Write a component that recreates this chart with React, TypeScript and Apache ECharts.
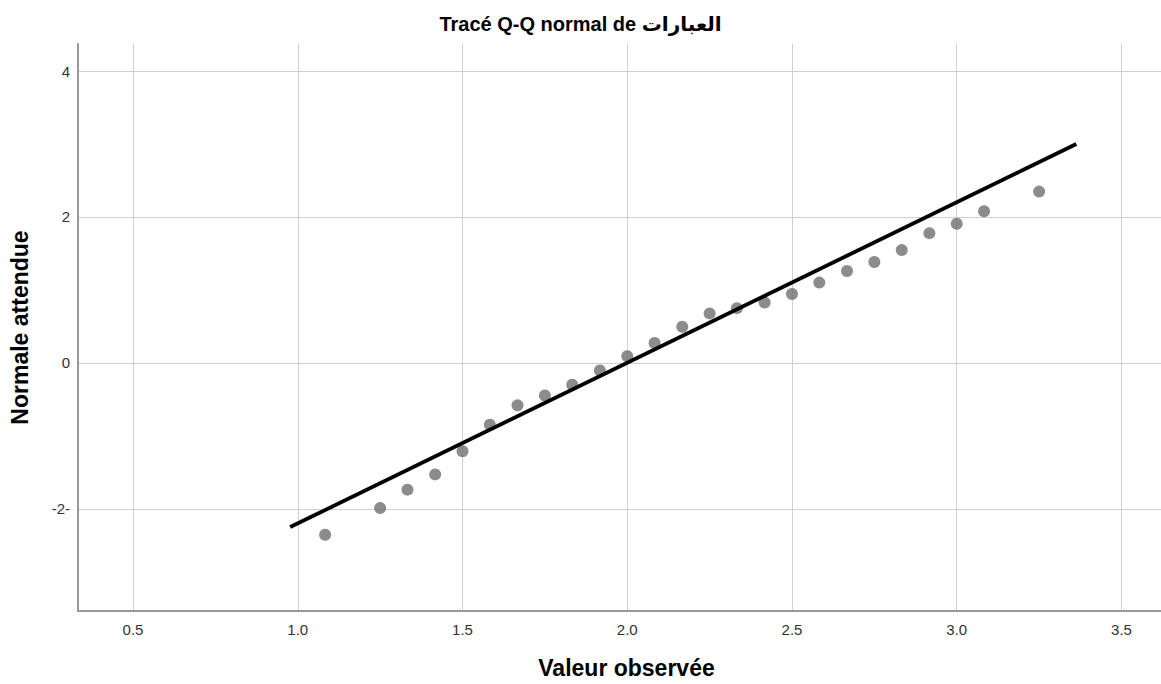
import React, { useEffect, useRef } from "react";
import * as echarts from "echarts";

// Observed values (x) and expected normal values (y)
const observed = [1.083, 1.25, 1.333, 1.417, 1.5, 1.583, 1.667, 1.75, 1.833, 1.917, 2.0, 2.083, 2.167, 2.25, 2.333, 2.417, 2.5, 2.583, 2.667, 2.75, 2.833, 2.917, 3.0, 3.083, 3.25];
const expectedNormal = [-2.356, -1.99, -1.737, -1.528, -1.21, -0.846, -0.582, -0.446, -0.3, -0.105, 0.091, 0.273, 0.495, 0.678, 0.75, 0.828, 0.945, 1.1, 1.26, 1.382, 1.546, 1.778, 1.906, 2.078, 2.347];

// Reference line endpoints
const lineX = [0.977, 3.363];
const lineY = [-2.25, 3.0];

// Tick values
const xTicks = [0.5, 1.0, 1.5, 2.0, 2.5, 3.0, 3.5];
const yTicks = [-2, 0, 2, 4];

const FONT = "'Liberation Sans', Arial, 'DejaVu Sans', 'Noto Sans', sans-serif";

export default function App() {
  const ref = useRef<HTMLDivElement>(null);
  useEffect(() => {
    if (!ref.current) return;
    const chart = echarts.init(ref.current, null, { renderer: "svg" });
    chart.setOption({
      animation: false,
      backgroundColor: "#ffffff",
      title: {
        text: "Tracé Q-Q normal de العبارات",
        left: "center",
        top: 9,
        textStyle: { fontFamily: FONT, fontSize: 20, fontWeight: "bold", color: "#000" },
      },
      grid: { left: 78, right: 0, top: 44, bottom: 71, containLabel: false },
      xAxis: {
        type: "value",
        min: 0.333,
        max: 3.62,
        name: "Valeur observée",
        nameLocation: "middle",
        nameGap: 45,
        nameTextStyle: {
          fontFamily: FONT,
          fontSize: 23,
          fontWeight: "bold",
          color: "#000",
          padding: [0, 0, 0, 14],
        },
        axisLine: { show: true, onZero: false, lineStyle: { color: "#999", width: 2 } },
        axisTick: { show: false, customValues: xTicks },
        axisLabel: {
          customValues: xTicks,
          margin: 11,
          fontFamily: FONT,
          fontSize: 15,
          color: "#333",
          formatter: (v: number) => v.toFixed(1),
        },
        splitLine: { show: true, lineStyle: { color: "#d0d0d0", width: 1 } },
      },
      yAxis: {
        type: "value",
        min: -3.4,
        max: 4.37,
        name: "Normale attendue",
        nameLocation: "middle",
        nameGap: 47,
        nameTextStyle: { fontFamily: FONT, fontSize: 23, fontWeight: "bold", color: "#000" },
        axisLine: { show: true, onZero: false, lineStyle: { color: "#999", width: 2 } },
        axisTick: { show: false, customValues: yTicks },
        axisLabel: {
          customValues: yTicks,
          margin: 8,
          fontFamily: FONT,
          fontSize: 15,
          color: "#333",
          formatter: (v: number) => (v < 0 ? `${v}-` : `${v}`),
        },
        splitLine: { show: true, lineStyle: { color: "#d0d0d0", width: 1 } },
      },
      series: [
        {
          type: "scatter",
          data: observed.map((x, i) => [x, expectedNormal[i]]),
          symbol: "circle",
          symbolSize: 12,
          itemStyle: { color: "#6f6f6f" },
          z: 2,
        },
        {
          type: "line",
          data: lineX.map((x, i) => [x, lineY[i]]),
          showSymbol: false,
          symbol: "none",
          lineStyle: { color: "#000", width: 3.8 },
          z: 3,
        },
      ],
    });
    return () => chart.dispose();
  }, []);
  return (
    <div
      ref={ref}
      style={{ position: "fixed", left: 0, top: 0, width: 1161, height: 684 }}
    />
  );
}
